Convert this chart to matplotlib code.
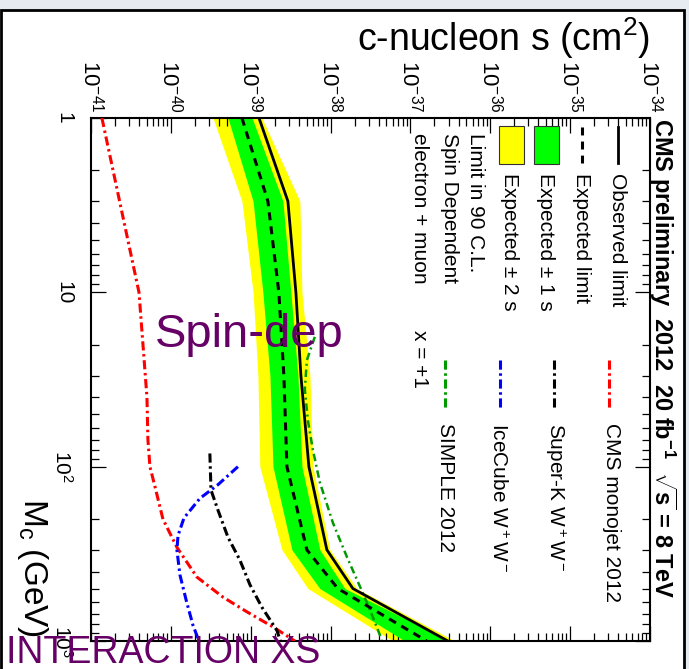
import numpy as np
import matplotlib
matplotlib.use("Agg")
import matplotlib.pyplot as plt
from matplotlib.lines import Line2D
from matplotlib.patches import Rectangle
from matplotlib.ticker import LogLocator, NullFormatter

plt.rcParams['font.family'] = ['Liberation Sans', 'DejaVu Sans']
plt.rcParams['mathtext.fontset'] = 'custom'
plt.rcParams['mathtext.rm'] = 'Liberation Sans'
plt.rcParams['mathtext.it'] = 'Liberation Sans:italic'
plt.rcParams['mathtext.bf'] = 'Liberation Sans:bold'

# CMS limit (mass in GeV, cross section in cm^2)
mass = [1, 3, 10, 30, 100, 300, 500, 1000]
observed = [1.27e-39, 2.92e-39, 3.68e-39, 4.25e-39, 5.35e-39, 8.99e-39, 1.90e-38, 2.94e-37]
expected = [7.76e-40, 1.64e-39, 2.25e-39, 2.60e-39, 2.84e-39, 5.05e-39, 1.23e-38, 1.60e-37]
exp_1s_lo = [5.19e-40, 1.07e-39, 1.42e-39, 1.74e-39, 1.90e-39, 3.28e-39, 7.34e-39, 8.51e-38]
exp_1s_hi = [1.04e-39, 2.53e-39, 3.18e-39, 3.90e-39, 4.38e-39, 7.34e-39, 1.51e-38, 3.11e-37]
exp_2s_lo = [3.37e-40, 7.76e-40, 1.07e-39, 1.23e-39, 1.30e-39, 2.46e-39, 5.20e-39, 6.03e-38]
exp_2s_hi = [1.38e-39, 4.13e-39, 4.38e-39, 5.51e-39, 6.00e-39, 9.79e-39, 2.13e-38, 3.60e-37]

# other experiments
monojet_m = [1, 3, 10, 40, 70, 100, 130, 200, 290, 430, 560, 680, 830, 1000]
monojet = [1.37e-41, 2.28e-41, 3.99e-41, 5.02e-41, 5.16e-41, 5.47e-41, 6.32e-41, 7.96e-41,
           1.19e-40, 2.12e-40, 4.49e-40, 8.95e-40, 1.90e-39, 3.57e-39]
superk_m = [84, 136, 177, 254, 344, 475, 640, 870, 1000]
superk = [3.08e-40, 3.18e-40, 3.88e-40, 5.19e-40, 7.33e-40, 9.77e-40, 1.38e-39, 2.13e-39, 2.35e-39]
icecube_m = [100, 127, 152, 197, 248, 300, 418, 580, 811, 1000]
icecube = [6.92e-40, 3.88e-40, 2.31e-40, 1.46e-40, 1.23e-40, 1.19e-40, 1.30e-40, 1.55e-40, 1.89e-40, 2.25e-40]
simple_m = [18, 24.5, 36, 54, 80, 123, 210, 329, 532, 729, 985]
simple = [6.35e-39, 5.05e-39, 4.76e-39, 5.19e-39, 6.00e-39, 7.34e-39, 1.07e-38, 1.60e-38, 2.54e-38, 3.38e-38, 4.38e-38]

xticks = [1e-41, 1e-40, 1e-39, 1e-38, 1e-37, 1e-36, 1e-35, 1e-34]
yticks = [1, 10, 100, 1000]
ytick_labels = ['1', '10', '$10^2$', '$10^3$']

W, H = 689, 669
def fx(x):
    return x / W
def fy(y):
    return 1 - y / H

fig = plt.figure(figsize=(W / 100, H / 100), dpi=100)
fig.patch.set_facecolor('#e6ebf1')
fig.add_artist(Rectangle((0.001, -0.01), fx(683), fy(10) + 0.01, transform=fig.transFigure,
                         facecolor='white', edgecolor='black', lw=2, zorder=-5))

ax = fig.add_axes([fx(91), fy(641), fx(650) - fx(91), fy(118) - fy(641)])
ax.set_xscale('log')
ax.set_yscale('log')

ax.fill_betweenx(mass, exp_2s_lo, exp_2s_hi, color='#ffff00', lw=0, zorder=1)
ax.fill_betweenx(mass, exp_1s_lo, exp_1s_hi, color='#00ff00', lw=0, zorder=2)
ax.plot(expected, mass, color='black', lw=2.2, ls=(0, (2.6, 2.0)), zorder=4)
ax.plot(observed, mass, color='black', lw=2.0, zorder=5)

dashdot = (0, (3.0, 1.2, 0.8, 1.2))
ax.plot(monojet, monojet_m, color='red', lw=2.2, ls=dashdot, zorder=3)
ax.plot(superk, superk_m, color='black', lw=2.2, ls=dashdot, zorder=3)
ax.plot(icecube, icecube_m, color='blue', lw=2.2, ls=dashdot, zorder=3)
ax.plot(simple, simple_m, color='#009900', lw=1.8, ls=(0, (3.0, 1.5, 0.8, 1.5)), zorder=3)

ax.set_xlim(1e-41, 1e-34)
ax.set_ylim(1000, 1)

ax.set_xticks(xticks)
ax.xaxis.set_minor_locator(LogLocator(base=10, subs=np.arange(2, 10), numticks=100))
ax.xaxis.set_minor_formatter(NullFormatter())
ax.set_yticks(yticks)
ax.set_yticklabels(ytick_labels, rotation=-90, va='center')
ax.yaxis.set_minor_locator(LogLocator(base=10, subs=np.arange(2, 10), numticks=100))
ax.yaxis.set_minor_formatter(NullFormatter())

ax.tick_params(axis='x', which='both', direction='in', top=True, bottom=True,
               labeltop=True, labelbottom=False, labelrotation=-90, labelsize=16, pad=4)
ax.tick_params(axis='y', which='both', direction='in', left=True, right=True, labelsize=15, pad=13)
ax.tick_params(which='major', length=11, width=0.9)
ax.tick_params(which='minor', length=6, width=0.9)
for s in ax.spines.values():
    s.set_linewidth(1.5)

# axis titles
fig.text(fx(650), fy(51), 'c-nucleon s (cm$^2$)', fontsize=27, ha='right', va='baseline')
fig.text(fx(32), fy(637), r'M$_\mathregular{c}$ (GeV)', fontsize=24, rotation=-90, ha='center', va='bottom')
fig.text(fx(663), fy(118), r'CMS preliminary  2012  20 fb$^{\mathbf{-1}}$  $\sqrt{\mathbf{s}}$ = 8 TeV',
         fontsize=17, fontweight='bold', rotation=-90, ha='center', va='top')

# legend (rotated like the rest of the plot)
fig.add_artist(Line2D([fx(618)] * 2, [fy(127), fy(163)], color='black', lw=2.0))
fig.add_artist(Line2D([fx(582)] * 2, [fy(127), fy(163)], color='black', lw=2.2, ls=(0, (2.6, 2.0))))
fig.add_artist(Rectangle((fx(534), fy(164)), fx(25), fy(126) - fy(164), transform=fig.transFigure,
                         facecolor='#00ff00', edgecolor='#333333', lw=0.8))
fig.add_artist(Rectangle((fx(499), fy(164)), fx(25), fy(126) - fy(164), transform=fig.transFigure,
                         facecolor='#ffff00', edgecolor='#333333', lw=0.8))
for xx, c, lw in [(609, 'red', 2.2), (554, 'black', 2.2), (500, 'blue', 2.2), (445, '#009900', 2.2)]:
    fig.add_artist(Line2D([fx(xx)] * 2, [fy(360), fy(408)], color=c, lw=lw, ls=dashdot))

leg = [(617, 173, 'Observed limit'), (582, 173, 'Expected limit'),
       (545, 173, 'Expected ± 1 s'), (510, 173, 'Expected ± 2 s'),
       (476, 133, 'Limit in 90 C.L.'), (450, 133, 'Spin Dependent'),
       (420, 133, 'electron + muon'), (420, 330, 'x = +1'),
       (612, 423, 'CMS monojet 2012'), (555, 423, 'Super-K W$^+$W$^-$'),
       (498, 423, 'IceCube W$^+$W$^-$'), (445, 423, 'SIMPLE 2012')]
for xx, yy, t in leg:
    fig.text(fx(xx), fy(yy), t, fontsize=15, rotation=-90, ha='center', va='top')

fig.text(fx(155), fy(347), 'Spin-dep', fontsize=34, color='#660066', va='baseline')
fig.text(fx(6), fy(663), 'INTERACTION XS', fontsize=27, color='#660066', va='baseline')

fig.savefig('out.png', dpi=100, facecolor=fig.get_facecolor())
